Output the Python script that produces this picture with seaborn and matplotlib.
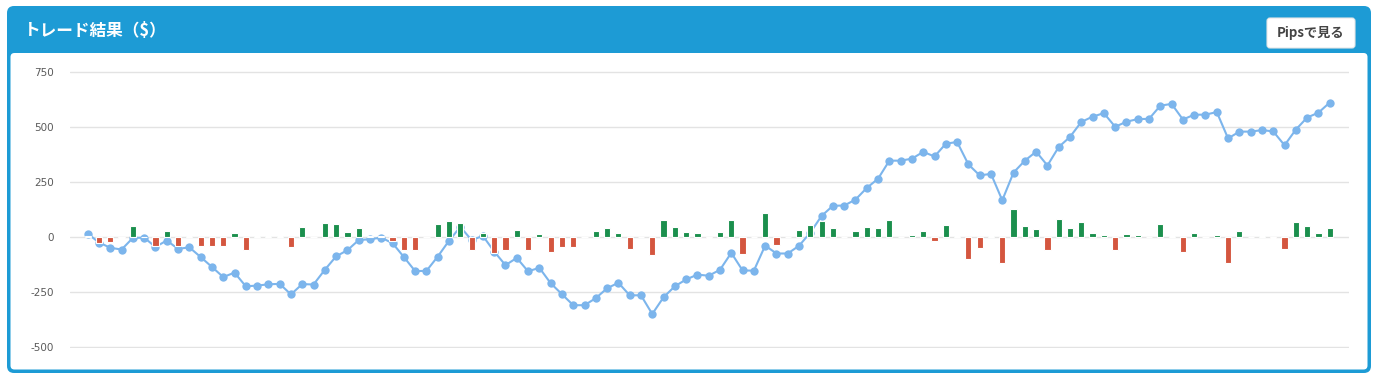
import numpy as np
import pandas as pd
import matplotlib
matplotlib.use("Agg")
import matplotlib.pyplot as plt
from matplotlib.patches import FancyBboxPatch
import seaborn as sns

# trade-by-trade P/L ($) and running balance ($)
trade_pnl = [5, -29, -24, -5, 52, 0, -42, 29, -39, 5,
             -42, -42, -42, 20, -61, 3, 5, 3, -47, 47,
             0, 65, 61, 24, 42, 3, 5, -20, -59, -59,
             0, 61, 74, 65, -61, 20, -71, -61, 32, -61,
             14, -68, -47, -47, 0, 29, 42, 20, -56, 0,
             -83, 77, 45, 24, 20, -4, 24, 79, -79, 0,
             111, -38, 0, 33, 55, 73, 41, 0, 27, 45,
             41, 77, 0, 8, 27, -18, 55, 6, -100, -50,
             6, -118, 127, 50, 36, -59, 82, 41, 68, 18,
             9, -59, 14, 9, 0, 59, 5, -68, 18, 0,
             9, -118, 27, 0, 5, -5, -55, 68, 50, 18,
             41]
balance = [15, -25, -49, -57, -4, -3, -45, -16, -54, -47,
           -91, -136, -182, -162, -224, -221, -215, -213, -261, -214,
           -216, -149, -88, -60, -14, -10, -3, -28, -91, -155,
           -154, -89, -17, 46, -14, 5, -66, -128, -95, -156,
           -140, -210, -260, -310, -310, -278, -233, -208, -265, -265,
           -350, -274, -224, -193, -171, -176, -149, -72, -152, -153,
           -39, -75, -75, -40, 20, 96, 142, 143, 170, 223,
           265, 347, 347, 356, 387, 366, 424, 432, 330, 280,
           287, 167, 293, 347, 388, 325, 409, 455, 523, 547,
           563, 501, 524, 536, 537, 597, 605, 534, 556, 556,
           568, 448, 479, 479, 486, 480, 417, 488, 543, 565,
           611]
y_ticks = [-500, -250, 0, 250, 500, 750]

title = "トレード結果（$）"
button_label = "Pipsで見る"

BLUE = "#1d9bd5"
LINE = "#7cb5ec"
GREEN = "#1b8f4d"
RED = "#d4563f"

trades = np.arange(len(trade_pnl))
df = pd.DataFrame({
    "trade": trades,
    "pnl": trade_pnl,
    "side": ["win" if v >= 0 else "loss" for v in trade_pnl],
})

sns.set_theme(style="white")
plt.rcParams["font.family"] = ["Noto Sans CJK JP", "DejaVu Sans"]

W, H = 1376, 378
fig = plt.figure(figsize=(W / 100, H / 100), dpi=100)
fig.patch.set_facecolor("white")

# card frame, drawn behind the axes (pixel -> inch coordinates)
def box(x0, y0, x1, y1, r, z, **kw):
    p = FancyBboxPatch((x0 / 100, (H - y1) / 100), (x1 - x0) / 100, (y1 - y0) / 100,
                       boxstyle=f"round,pad=0,rounding_size={r}",
                       transform=fig.dpi_scale_trans, zorder=z, **kw)
    fig.add_artist(p)
    return p

box(7, 6, 1371, 373, 0.07, -3, facecolor=BLUE, edgecolor="none")
box(10.5, 53, 1367.5, 369.5, 0.04, -2, facecolor="white", edgecolor="none")
box(1267, 18, 1355, 48, 0.03, -1, facecolor="white", edgecolor="#e6e6e6", linewidth=0.8)

fig.text(0.24, (H - 31) / 100, title, transform=fig.dpi_scale_trans,
         color="white", fontsize=12, fontweight="bold", va="center", ha="left")
fig.text(13.11, (H - 33) / 100, button_label, transform=fig.dpi_scale_trans,
         color="#444444", fontsize=9.5, fontweight="bold", va="center", ha="center")

# y range padded by 5$ (~1px) so the outer gridlines are not clipped
ax = fig.add_axes([70 / W, 1 - 348.1 / H, (1349 - 70) / W, (348.1 - 70.9) / H])
ax.set_facecolor("none")

sns.lineplot(x=trades, y=balance, ax=ax, color=LINE, linewidth=1.5,
             marker="o", markersize=6, markeredgewidth=0, zorder=2)
sns.barplot(data=df, x="trade", y="pnl", hue="side", dodge=False,
            palette={"win": GREEN, "loss": RED}, width=0.55, saturation=1,
            edgecolor="white", linewidth=0.8, legend=False, ax=ax)
for p in ax.patches:
    p.set_zorder(3)

ax.set_xlim(-1.57, len(trades) - 1 + 1.71)
ax.set_ylim(y_ticks[0] - 5, y_ticks[-1] + 5)
ax.set_yticks(y_ticks)
ax.set_yticklabels([str(v) for v in y_ticks], family="DejaVu Sans",
                   fontsize=7.5, color="#5a5a5a")
ax.set_xticks([])
ax.set_xlabel("")
ax.set_ylabel("")
ax.tick_params(axis="y", length=0, pad=11.5)
ax.grid(axis="y", color="#e3e3e3", linewidth=1)
ax.grid(axis="x", visible=False)
ax.set_axisbelow(True)
for s in ax.spines.values():
    s.set_visible(False)

fig.savefig("out.png", dpi=100)
